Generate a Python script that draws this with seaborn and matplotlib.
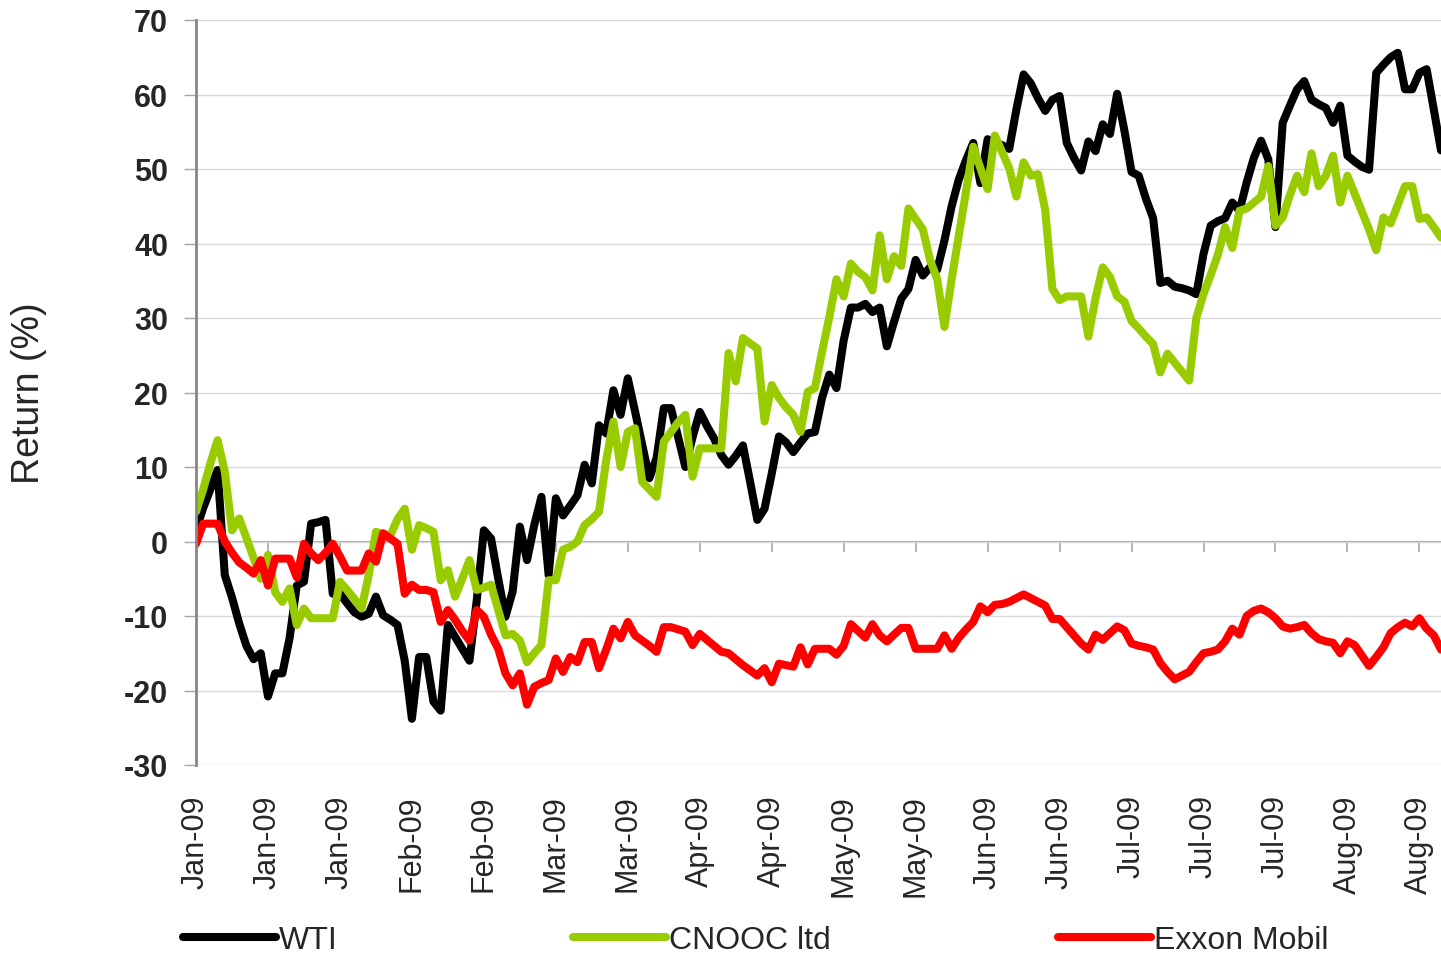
import numpy as np
import pandas as pd
import seaborn as sns
import matplotlib
matplotlib.use("Agg")
import matplotlib.pyplot as plt
from matplotlib.lines import Line2D

# cumulative return (%) per trading day
wti = [1.5, 4.5, 7, 9.6, -4.5, -7.5, -11, -14, -15.8, -15,
       -20.8, -17.7, -17.7, -13, -5.9, -5.4, 2.4, 2.6, 2.9, -7,
       -7, -8.3, -9.5, -10.1, -9.7, -7.4, -9.9, -10.5, -11.2, -16,
       -23.8, -15.5, -15.5, -21.5, -22.7, -11.2, -12.8, -14.4, -16, -8,
       1.5, 0.4, -5, -10.1, -6.7, 2, -2.5, 2.2, 6, -4.5,
       5.8, 3.5, 4.8, 6.2, 10.3, 7.8, 15.6, 14.5, 20.3, 17,
       21.9, 17.5, 13, 8.5, 11.2, 17.9, 17.9, 14, 10, 14,
       17.4, 15.5, 13.8, 11.6, 10.3, 11.5, 12.9, 8, 2.9, 4.4,
       9.1, 14.1, 13.3, 12, 13.3, 14.5, 14.7, 19.3, 22.4, 20.6,
       27, 31.4, 31.4, 31.9, 30.8, 31.4, 26.2, 29.5, 32.6, 33.9,
       37.8, 35.7, 36.8, 36.5, 40.4, 45, 48.6, 51.2, 53.5, 48.1,
       54, 53.5, 53.2, 52.7, 58, 62.7, 61.5, 59.5, 57.8, 59.3,
       59.8, 53.5, 51.5, 49.8, 53.7, 52.4, 56, 54.7, 60.1, 55.2,
       49.6, 49.1, 46, 43.4, 34.7, 35, 34.2, 34, 33.7, 33.2,
       38.6, 42.4, 43, 43.4, 45.5, 44.4, 48.2, 51.5, 53.8, 51.3,
       42.2, 56.2, 58.5, 60.7, 61.8, 59.3, 58.7, 58.2, 56.2, 58.5,
       51.8, 51, 50.3, 49.9, 62.9, 64, 65, 65.6, 60.7, 60.7,
       62.9, 63.4, 58, 52.5]

cnooc = [4, 7, 10.5, 13.6, 9.4, 1.5, 3.1, 0.5, -2.2, -5,
         -1.8, -6.8, -8.1, -6.3, -11.2, -9, -10.3, -10.3, -10.3, -10.3,
         -5.4, -6.5, -7.7, -9, -4.5, 1.3, 1, 0.8, 3, 4.4,
         -1.1, 2.2, 1.8, 1.3, -5.2, -3.85, -7.4, -5, -2.5, -6.5,
         -6.2, -5.8, -9.2, -12.6, -12.4, -13.3, -16.2, -15, -13.9, -5.2,
         -5.2, -1.1, -0.7, 0, 2.2, 3, 4, 10.9, 16.1, 10,
         14.7, 15.2, 8, 7, 6, 13.4, 14.7, 16, 17, 8.7,
         12.5, 12.5, 12.5, 12.5, 25.3, 21.5, 27.3, 26.6, 25.9, 16.1,
         21, 19.3, 18, 17, 14.7, 20.1, 20.6, 25.5, 30.1, 35.2,
         32.9, 37.3, 36.2, 35.5, 33.7, 41.1, 35.2, 38.3, 37, 44.7,
         43.3, 41.9, 37.8, 35.2, 28.8, 35.2, 41.1, 47, 53, 50.1,
         47.3, 54.5, 52.3, 50.1, 46.3, 50.9, 49.1, 49.3, 44.5, 33.9,
         32.4, 32.9, 32.9, 32.9, 27.5, 32.7, 36.8, 35.5, 32.9, 32.2,
         29.6, 28.6, 27.5, 26.5, 22.7, 25.2, 24, 22.8, 21.6, 30,
         33.2, 35.8, 38.5, 42.2, 39.4, 44.4, 44.7, 45.5, 46.3, 50.4,
         42.4, 43.5, 46.5, 49.1, 46.9, 52.1, 47.7, 49.1, 51.8, 45.5,
         49.1, 46.7, 44.3, 41.9, 39.1, 43.5, 42.7, 45.2, 47.7, 47.7,
         43.3, 43.5, 42.2, 40.8]

exxon = [-0.3, 2.4, 2.4, 2.4, 0, -1.5, -2.8, -3.5, -4.3, -2.5,
         -5.9, -2.3, -2.3, -2.3, -4.8, -0.3, -1.6, -2.5, -1.5, -0.3,
         -2, -3.9, -3.9, -3.9, -1.6, -2.7, 1.1, 0.4, -0.3, -7,
         -5.8, -6.5, -6.5, -6.8, -10.8, -9.2, -10.5, -12, -13.3, -9.2,
         -10.1, -12.5, -14.4, -17.7, -19.3, -17.7, -21.9, -19.5, -19, -18.6,
         -15.7, -17.5, -15.5, -16.2, -13.5, -13.5, -17, -14.5, -11.7, -13,
         -10.8, -12.6, -13.3, -14, -14.8, -11.5, -11.5, -11.8, -12.1, -13.9,
         -12.4, -13.2, -14, -14.8, -15, -15.8, -16.6, -17.3, -18, -17,
         -18.9, -16.4, -16.6, -16.8, -14.2, -16.5, -14.4, -14.4, -14.4, -15.2,
         -14, -11.1, -12, -12.9, -11.1, -12.6, -13.4, -12.5, -11.6, -11.6,
         -14.4, -14.4, -14.4, -14.4, -12.6, -14.4, -12.9, -11.8, -10.8, -8.7,
         -9.5, -8.5, -8.4, -8.1, -7.6, -7.1, -7.6, -8.1, -8.6, -10.4,
         -10.4, -11.5, -12.6, -13.7, -14.5, -12.5, -13.2, -12.3, -11.4, -11.9,
         -13.7, -14, -14.2, -14.5, -16.3, -17.5, -18.5, -18, -17.5, -16.2,
         -15, -14.8, -14.5, -13.4, -11.7, -12.5, -10, -9.3, -9, -9.5,
         -10.3, -11.4, -11.7, -11.5, -11.2, -12.3, -13.1, -13.4, -13.6, -15,
         -13.4, -13.9, -15.3, -16.7, -15.5, -14.2, -12.3, -11.5, -10.9, -11.4,
         -10.3, -11.7, -12.6, -14.5]

series_names = ["WTI", "CNOOC ltd", "Exxon Mobil"]
series_colors = ["#000000", "#99CC00", "#FF0000"]
dates = pd.bdate_range("2009-01-01", periods=len(wti))
tick_step = 10
y_ticks = list(range(-30, 71, 10))

df = pd.DataFrame({"day": np.arange(len(wti)), "WTI": wti,
                   "CNOOC ltd": cnooc, "Exxon Mobil": exxon})
long_df = df.melt(id_vars="day", var_name="series", value_name="ret")

sns.set_theme(style="white")
plt.rcParams["font.family"] = ["Liberation Sans", "DejaVu Sans"]
plt.rcParams["axes.unicode_minus"] = False

fig = plt.figure(figsize=(14.41, 9.62), dpi=100)
ax = fig.add_axes([196 / 1441, 1 - 766 / 962, 1 - 196 / 1441, (766 - 21) / 962])

palette = dict(zip(series_names, series_colors))
sns.lineplot(data=long_df, x="day", y="ret", hue="series", hue_order=series_names,
             palette=palette, linewidth=5.8, ax=ax, legend=False, sort=False,
             solid_joinstyle="round", solid_capstyle="round")

ax.set_xlim(0, len(wti) - 1)
ax.set_ylim(y_ticks[0], y_ticks[-1])
ax.set_yticks(y_ticks)
ax.set_yticklabels([str(v) for v in y_ticks], fontsize=22, fontweight="bold")
ax.tick_params(axis="y", direction="out", length=9, width=1, color="#a6a6a6", pad=11, left=True)

tick_pos = list(range(0, len(wti), tick_step))
ax.set_xticks(tick_pos)
ax.set_xticklabels([dates[p].strftime("%b-%y") for p in tick_pos], rotation=90,
                   fontsize=22, va="top", ha="center")
ax.tick_params(axis="x", length=0, pad=21)

ax.grid(axis="y", color="#d9d9d9", linewidth=1)
ax.grid(axis="x", visible=False)
for side in ["top", "right", "bottom"]:
    ax.spines[side].set_visible(False)
ax.spines["left"].set_color("#868686")
ax.spines["left"].set_linewidth(2)

# category axis crossing at zero
zero_loc = (0 - y_ticks[0]) / (y_ticks[-1] - y_ticks[0])
sec = ax.secondary_xaxis(zero_loc)
sec.set_xticks(tick_pos)
sec.set_xticklabels([])
sec.tick_params(direction="out", length=7, width=1.2, color="#a6a6a6")
sec.spines["bottom"].set_color("#a6a6a6")
sec.spines["bottom"].set_linewidth(1.5)

ax.set_xlabel("")
ax.set_ylabel("Return (%)", fontsize=27)
ax.yaxis.set_label_coords(-0.12, 0.5)

# one legend entry per slot, spread along the bottom like the original
legend_x = [183, 573, 1058]
for name, color, lx in zip(series_names, series_colors, legend_x):
    h = Line2D([], [], color=color, linewidth=5.8, solid_capstyle="round")
    fig.legend([h], [name], loc="lower left", bbox_to_anchor=(lx / 1441, 0.006),
               frameon=False, fontsize=23, handlelength=2.9, handletextpad=0.1,
               borderaxespad=0, borderpad=0)

fig.savefig("out.png", dpi=100)
